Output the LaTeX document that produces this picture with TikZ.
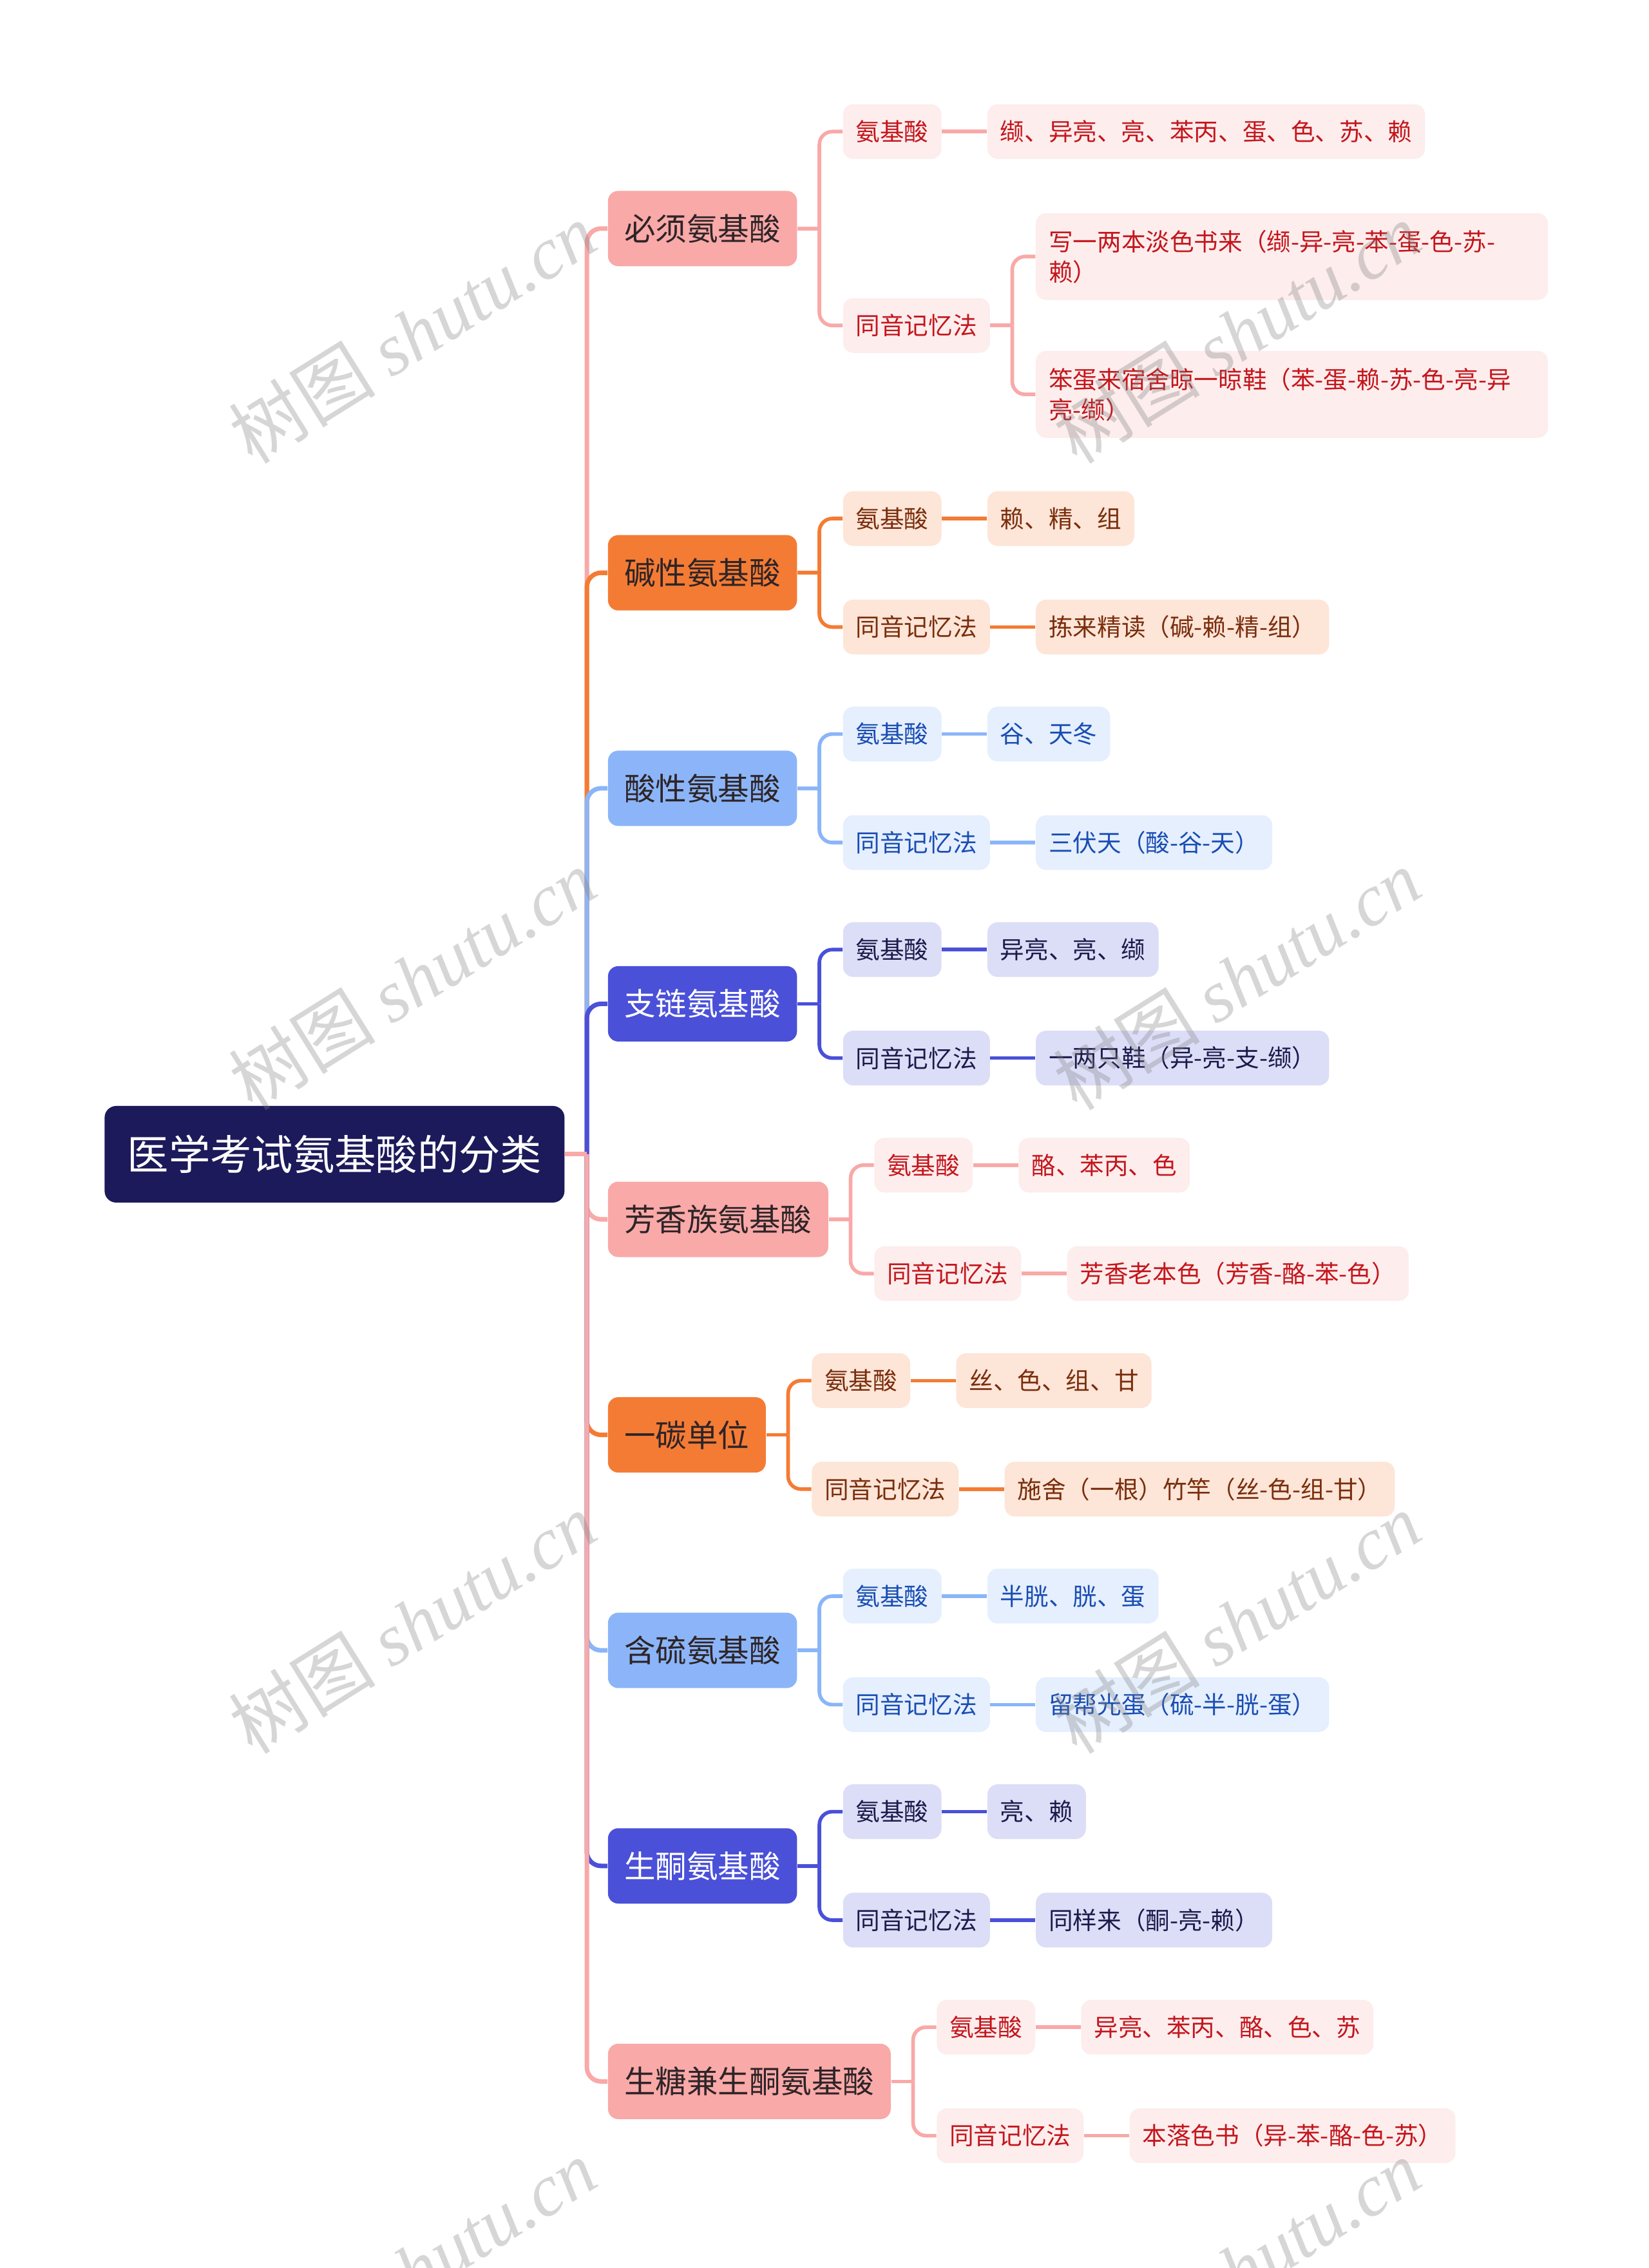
\documentclass[tikz,border=0pt]{standalone}
\usepackage{fontspec}
\setmainfont{Noto Sans CJK SC}
\newfontfamily\wmfont{Liberation Serif}
\usepackage{tikz}
\usetikzlibrary{positioning}

\definecolor{rootfill}{HTML}{1C1A5A}
\definecolor{pkA}{HTML}{F8A9A8}
\definecolor{pkL}{HTML}{FDEDED}
\definecolor{pkT}{HTML}{C3161C}
\definecolor{orA}{HTML}{F47B34}
\definecolor{orL}{HTML}{FDE5D8}
\definecolor{orT}{HTML}{7A2E0C}
\definecolor{lbA}{HTML}{8BB5F8}
\definecolor{lbL}{HTML}{E5EFFD}
\definecolor{lbT}{HTML}{1A4DB3}
\definecolor{blA}{HTML}{4A50D8}
\definecolor{blL}{HTML}{DCDDF7}
\definecolor{blT}{HTML}{1B1B4B}
\definecolor{catT}{HTML}{2E2427}

\begin{document}
\begin{tikzpicture}[
			x=0.22456mm, y=-0.22456mm,
			node distance=7mm,
			root/.style={rectangle, rounded corners=1.8mm, fill=rootfill, text=white, minimum width=71.4mm, minimum height=15mm, font=\fontsize{18.3}{22}\selectfont},
			cat/.style={rectangle, rounded corners=1.6mm, minimum height=11.7mm, inner xsep=2.55mm, font=\fontsize{13.8}{16}\selectfont},
			leaf/.style={rectangle, rounded corners=1.6mm, minimum height=8.5mm, inner xsep=2mm, font=\fontsize{10.7}{13.4}\selectfont},
			pkcat/.style={cat, fill=pkA, text=catT},
			orcat/.style={cat, fill=orA, text=catT},
			lbcat/.style={cat, fill=lbA, text=catT},
			blcat/.style={cat, fill=blA, text=white},
			pkleaf/.style={leaf, fill=pkL, text=pkT},
			orleaf/.style={leaf, fill=orL, text=orT},
			lbleaf/.style={leaf, fill=lbL, text=lbT},
			blleaf/.style={leaf, fill=blL, text=blT},
			stem/.style={line width=2pt, rounded corners=2.2mm},
			twig/.style={line width=1.6pt, rounded corners=2mm},
			watermark/.style={text=gray, opacity=0.32, rotate=32, font=\fontsize{32.5}{32.5}\selectfont}
			]
			
			\useasboundingbox (0,0) rectangle (1140,1568);
			
			% Tema central
			\node (root) [root, anchor=west] at (72,798) {医学考试氨基酸的分类};
			\coordinate [right=3.4mm of root] (hub);
			
			% Ramas principales
			\node (bixu) [pkcat, anchor=west] at (420,158) {必须氨基酸};
			\node (jianx) [orcat, anchor=west] at (420,396) {碱性氨基酸};
			\node (suanx) [lbcat, anchor=west] at (420,545) {酸性氨基酸};
			\node (zhil) [blcat, anchor=west] at (420,694) {支链氨基酸};
			\node (fangx) [pkcat, anchor=west] at (420,843) {芳香族氨基酸};
			\node (yitan) [orcat, anchor=west] at (420,992) {一碳单位};
			\node (hanl) [lbcat, anchor=west] at (420,1141) {含硫氨基酸};
			\node (shengt) [blcat, anchor=west] at (420,1290) {生酮氨基酸};
			\node (tangt) [pkcat, anchor=west] at (420,1439) {生糖兼生酮氨基酸};
			
			% 必须氨基酸
			\node (bixuA) [pkleaf, right=of bixu, yshift=15.05mm] {氨基酸};
			\node (bixuA1) [pkleaf, right=of bixuA] {缬、异亮、亮、苯丙、蛋、色、苏、赖};
			\node (bixuB) [pkleaf, right=of bixu, yshift=-15.05mm] {同音记忆法};
			\node (bixuB1) [pkleaf, right=of bixuB, yshift=10.7mm, text width=75.5mm, align=left, minimum height=13.5mm] {写一两本淡色书来（缬-异-亮-苯-蛋-色-苏-\\赖）};
			\node (bixuB2) [pkleaf, right=of bixuB, yshift=-10.7mm, text width=75.5mm, align=left, minimum height=13.5mm] {笨蛋来宿舍晾一晾鞋（苯-蛋-赖-苏-色-亮-异\\亮-缬）};
			
			% 碱性氨基酸
			\node (jianxA) [orleaf, right=of jianx, yshift=8.42mm] {氨基酸};
			\node (jianxA1) [orleaf, right=of jianxA] {赖、精、组};
			\node (jianxB) [orleaf, right=of jianx, yshift=-8.42mm] {同音记忆法};
			\node (jianxB1) [orleaf, right=of jianxB] {拣来精读（碱-赖-精-组）};
			
			% 酸性氨基酸
			\node (suanxA) [lbleaf, right=of suanx, yshift=8.42mm] {氨基酸};
			\node (suanxA1) [lbleaf, right=of suanxA] {谷、天冬};
			\node (suanxB) [lbleaf, right=of suanx, yshift=-8.42mm] {同音记忆法};
			\node (suanxB1) [lbleaf, right=of suanxB] {三伏天（酸-谷-天）};
			
			% 支链氨基酸
			\node (zhilA) [blleaf, right=of zhil, yshift=8.42mm] {氨基酸};
			\node (zhilA1) [blleaf, right=of zhilA] {异亮、亮、缬};
			\node (zhilB) [blleaf, right=of zhil, yshift=-8.42mm] {同音记忆法};
			\node (zhilB1) [blleaf, right=of zhilB] {一两只鞋（异-亮-支-缬）};
			
			% 芳香族氨基酸
			\node (fangxA) [pkleaf, right=of fangx, yshift=8.42mm] {氨基酸};
			\node (fangxA1) [pkleaf, right=of fangxA] {酪、苯丙、色};
			\node (fangxB) [pkleaf, right=of fangx, yshift=-8.42mm] {同音记忆法};
			\node (fangxB1) [pkleaf, right=of fangxB] {芳香老本色（芳香-酪-苯-色）};
			
			% 一碳单位
			\node (yitanA) [orleaf, right=of yitan, yshift=8.42mm] {氨基酸};
			\node (yitanA1) [orleaf, right=of yitanA] {丝、色、组、甘};
			\node (yitanB) [orleaf, right=of yitan, yshift=-8.42mm] {同音记忆法};
			\node (yitanB1) [orleaf, right=of yitanB] {施舍（一根）竹竿（丝-色-组-甘）};
			
			% 含硫氨基酸
			\node (hanlA) [lbleaf, right=of hanl, yshift=8.42mm] {氨基酸};
			\node (hanlA1) [lbleaf, right=of hanlA] {半胱、胱、蛋};
			\node (hanlB) [lbleaf, right=of hanl, yshift=-8.42mm] {同音记忆法};
			\node (hanlB1) [lbleaf, right=of hanlB] {留帮光蛋（硫-半-胱-蛋）};
			
			% 生酮氨基酸
			\node (shengtA) [blleaf, right=of shengt, yshift=8.42mm] {氨基酸};
			\node (shengtA1) [blleaf, right=of shengtA] {亮、赖};
			\node (shengtB) [blleaf, right=of shengt, yshift=-8.42mm] {同音记忆法};
			\node (shengtB1) [blleaf, right=of shengtB] {同样来（酮-亮-赖）};
			
			% 生糖兼生酮氨基酸
			\node (tangtA) [pkleaf, right=of tangt, yshift=8.42mm] {氨基酸};
			\node (tangtA1) [pkleaf, right=of tangtA] {异亮、苯丙、酪、色、苏};
			\node (tangtB) [pkleaf, right=of tangt, yshift=-8.42mm] {同音记忆法};
			\node (tangtB1) [pkleaf, right=of tangtB] {本落色书（异-苯-酪-色-苏）};
			
			% Conexiones al tema central
			\draw [stem, pkA] (hub) |- (bixu);
			\draw [stem, orA] (hub) |- (jianx);
			\draw [stem, lbA] (hub) |- (suanx);
			\draw [stem, blA] (hub) |- (zhil);
			\draw [stem, pkA] (hub) |- (fangx);
			\draw [stem, orA] (hub) |- (yitan);
			\draw [stem, lbA] (hub) |- (hanl);
			\draw [stem, blA] (hub) |- (shengt);
			\draw [stem, pkA] (hub) |- (tangt);
			\draw [stem, pkA] (root) -- (hub);
			
			% Conexiones de las ramas
			\foreach \br/\col in {bixu/pkA, jianx/orA, suanx/lbA, zhil/blA, fangx/pkA, yitan/orA, hanl/lbA, shengt/blA, tangt/pkA} {
				\coordinate [right=3.4mm of \br] (\br H);
				\draw [twig, \col] (\br) -- (\br H);
				\draw [twig, \col] (\br H) |- (\br A);
				\draw [twig, \col] (\br H) |- (\br B);
				\draw [twig, \col] (\br A) -- (\br A1);
			}
			\foreach \br/\col in {jianx/orA, suanx/lbA, zhil/blA, fangx/pkA, yitan/orA, hanl/lbA, shengt/blA, tangt/pkA}
				\draw [twig, \col] (\br B) -- (\br B1);
			\coordinate [right=3.4mm of bixuB] (bixuBH);
			\draw [twig, pkA] (bixuB) -- (bixuBH);
			\draw [twig, pkA] (bixuBH) |- (bixuB1);
			\draw [twig, pkA] (bixuBH) |- (bixuB2);
			
			% Marcas de agua
			\begin{scope}
				\clip (0,0) rectangle (1140,1568);
				\foreach \wx/\wy [count=\k] in {285/230, 855/230, 285/677, 855/677, 285/1122, 855/1122, 285/1569, 855/1569}
					\node (wm\k) [watermark] at (\wx,\wy) {树图 {\wmfont\itshape shutu.cn}};
			\end{scope}
			
		\end{tikzpicture}
\end{document}
